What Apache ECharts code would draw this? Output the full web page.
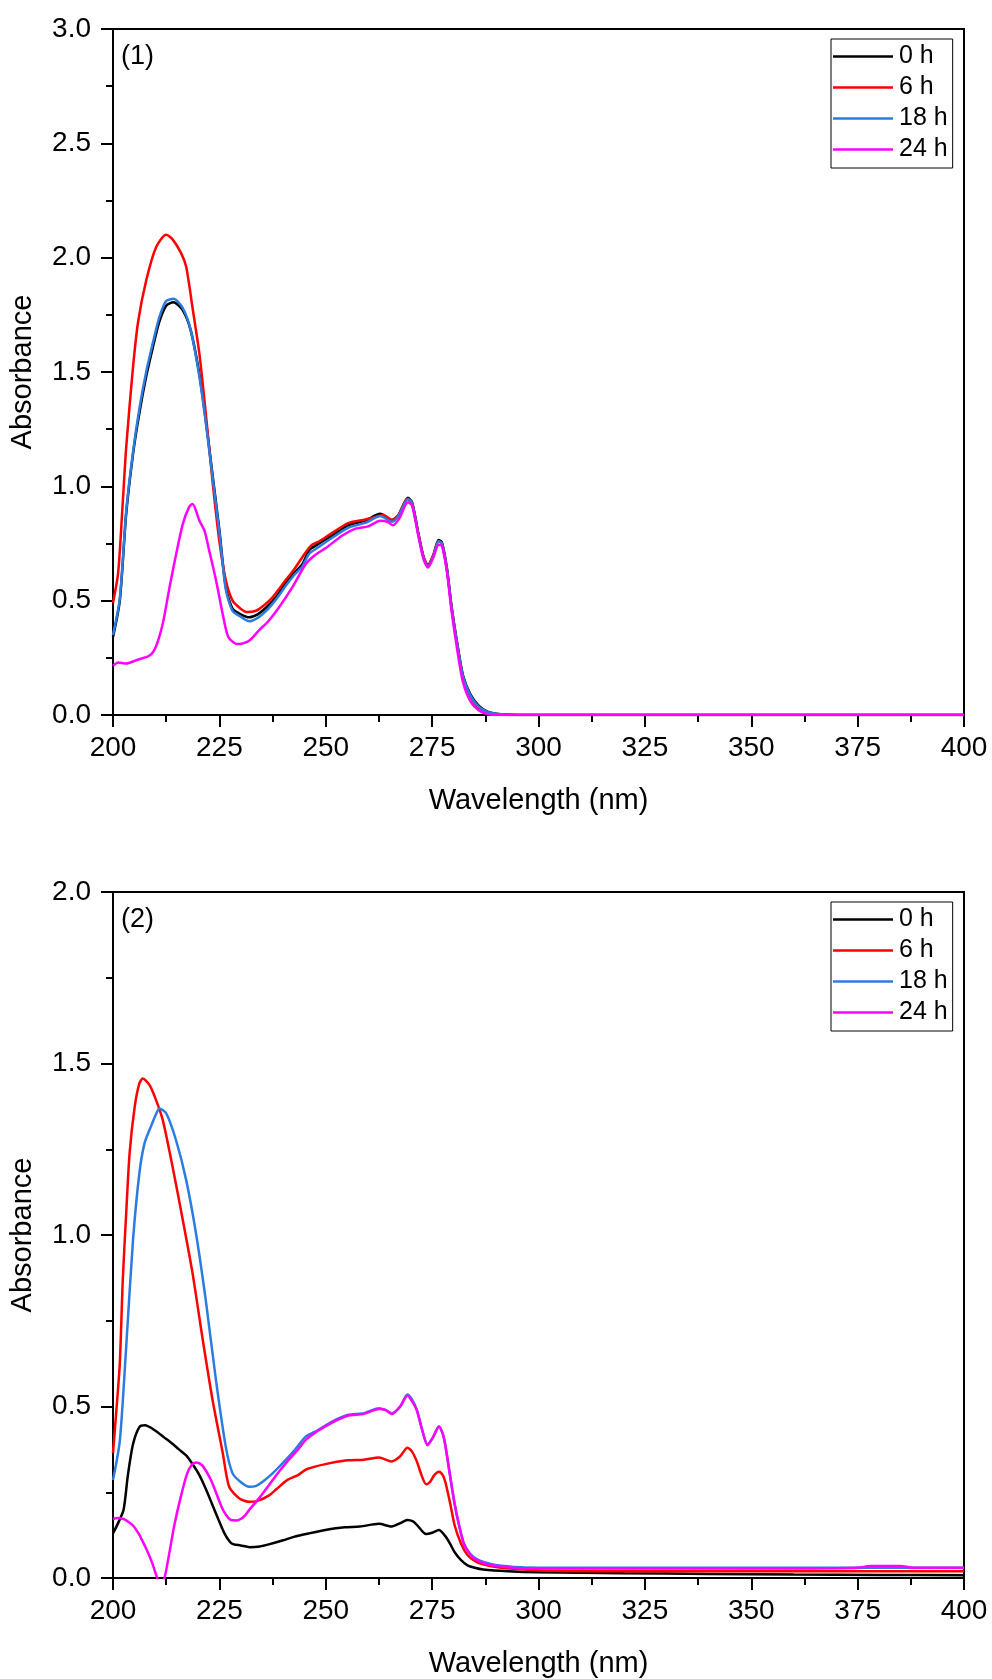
<!DOCTYPE html>
<html>
<head>
<meta charset="utf-8">
<script src="https://cdn.jsdelivr.net/npm/echarts@6/dist/echarts.min.js"></script>
<style>
html,body{margin:0;padding:0;background:#fff;}
#chart{width:992px;height:1679px;}
</style>
</head>
<body>
<div id="chart"></div>
<script>
// ---- Data ----
const seriesNames = ['0 h', '6 h', '18 h', '24 h'];
const xTicks = [200, 225, 250, 275, 300, 325, 350, 375, 400];
const panelLabels = ['(1)', '(2)'];

// Panel (1)
const p1_0h = [[200,0.34],[201.6,0.50],[203.1,0.88],[204.7,1.14],[206.2,1.32],[207.8,1.48],[209.4,1.61],[210.9,1.72],[212.5,1.79],[214.2,1.805],[216.4,1.77],[218.3,1.68],[220.3,1.49],[221.8,1.29],[223.4,1.05],[225,0.81],[226.5,0.56],[228.1,0.465],[230,0.44],[232,0.427],[234,0.44],[236,0.47],[238.5,0.52],[240.6,0.58],[242.5,0.62],[244.5,0.66],[246.1,0.72],[248,0.745],[251.5,0.785],[255.4,0.83],[259.3,0.85],[262.8,0.88],[265.6,0.853],[267.1,0.875],[269.3,0.95],[270.3,0.93],[271.8,0.79],[273,0.69],[274,0.655],[275.3,0.70],[276.5,0.765],[277.3,0.755],[278.5,0.64],[279.6,0.47],[281.2,0.28],[282.3,0.17],[284,0.09],[286,0.04],[288,0.015],[290,0.006],[293,0.001],[300,0],[400,0]];
const p1_6h = [[200,0.49],[201.2,0.62],[202.2,0.90],[203.1,1.17],[204.7,1.52],[205.9,1.72],[207.8,1.90],[210.1,2.045],[212.5,2.10],[214,2.08],[216,2.02],[217.2,1.96],[218.7,1.78],[220.3,1.58],[221.8,1.32],[223.4,1.02],[225,0.76],[226.5,0.59],[228.1,0.50],[230,0.465],[231.5,0.45],[233.6,0.456],[235.5,0.48],[237.5,0.515],[240.6,0.59],[242.5,0.635],[244.5,0.69],[246.5,0.74],[248.5,0.76],[251,0.79],[255.4,0.84],[259.3,0.855],[262.5,0.87],[263.5,0.875],[265.6,0.853],[267.1,0.875],[269.2,0.945],[270.3,0.925],[271.8,0.79],[273,0.69],[274,0.655],[275.3,0.70],[276.5,0.76],[277.3,0.75],[278.5,0.63],[279.6,0.465],[281.2,0.27],[282.3,0.16],[284,0.08],[286,0.03],[288,0.01],[290,0.003],[293,0],[400,0]];
const p1_18h = [[200,0.35],[201.6,0.51],[203.1,0.89],[204.7,1.15],[206.2,1.34],[207.8,1.50],[209.4,1.63],[210.9,1.74],[212.5,1.81],[214.2,1.82],[216.4,1.78],[218.3,1.68],[220.3,1.48],[221.8,1.28],[223.4,1.04],[225,0.80],[226.5,0.55],[228.1,0.455],[230,0.43],[232,0.41],[234,0.425],[236,0.455],[238.5,0.51],[240.6,0.565],[242.5,0.61],[244.5,0.65],[246.1,0.705],[248,0.73],[251.5,0.775],[255.4,0.82],[259.3,0.84],[262.8,0.87],[265.6,0.845],[267.1,0.87],[269.3,0.945],[270.3,0.925],[271.8,0.785],[273,0.685],[274,0.65],[275.3,0.695],[276.5,0.76],[277.3,0.75],[278.5,0.635],[279.6,0.465],[281.2,0.275],[282.3,0.165],[284,0.085],[286,0.035],[288,0.013],[290,0.005],[293,0.001],[300,0],[400,0]];
const p1_24h = [[200,0.215],[201.2,0.23],[203.1,0.225],[205.5,0.24],[208.6,0.26],[210.1,0.30],[211.7,0.40],[213.3,0.56],[214.8,0.70],[216.4,0.835],[217.9,0.91],[218.7,0.923],[220.3,0.85],[221.5,0.806],[222.6,0.72],[224.2,0.59],[225.8,0.44],[227,0.345],[228.5,0.315],[229.7,0.31],[232,0.325],[234.3,0.37],[236.5,0.41],[239,0.47],[242.2,0.56],[245.3,0.66],[247.5,0.70],[250,0.73],[253.9,0.785],[257,0.815],[260,0.825],[262.8,0.85],[264.5,0.845],[265.8,0.83],[267.3,0.86],[269.3,0.93],[270.3,0.915],[271.8,0.78],[273,0.68],[274,0.645],[275.3,0.69],[276.5,0.745],[277.3,0.74],[278.5,0.625],[279.6,0.45],[281.2,0.25],[282.3,0.14],[284,0.06],[286,0.02],[288,0.004],[290,0],[400,0]];

// Panel (2)
const p2_0h = [[200,0.13],[201.2,0.16],[202.5,0.20],[203.5,0.30],[204.7,0.39],[206.2,0.44],[207.5,0.445],[209.9,0.43],[212,0.41],[213.6,0.395],[215.5,0.375],[217.3,0.356],[218.8,0.33],[220.3,0.30],[221.8,0.26],[223.3,0.215],[224.8,0.17],[226.2,0.13],[227.5,0.105],[228.4,0.098],[230,0.095],[232.1,0.09],[234.5,0.092],[236.6,0.098],[240,0.11],[242.5,0.12],[246,0.13],[249.9,0.14],[254.4,0.148],[258,0.15],[262.5,0.158],[265.5,0.15],[267.5,0.16],[269.2,0.169],[270.5,0.165],[271.4,0.155],[273.6,0.128],[275,0.132],[276.6,0.14],[278.1,0.122],[279.3,0.098],[280.3,0.075],[281.8,0.052],[283.3,0.037],[285,0.03],[287,0.025],[292.9,0.02],[300,0.017],[320,0.014],[340,0.012],[360,0.01],[380,0.009],[400,0.008]];
const p2_6h = [[200,0.364],[200.8,0.49],[201.6,0.626],[202.3,0.87],[203.1,1.063],[203.9,1.238],[205.1,1.374],[206.2,1.442],[207,1.456],[208.6,1.437],[210.1,1.394],[211.7,1.335],[214,1.199],[216.4,1.044],[218.7,0.888],[221.1,0.694],[223.4,0.519],[225.8,0.364],[227.3,0.266],[229.7,0.232],[232.1,0.222],[234,0.225],[236.6,0.24],[238.5,0.26],[241,0.286],[243.5,0.30],[245.5,0.317],[249.9,0.332],[255.1,0.343],[259,0.345],[262.5,0.351],[265.5,0.34],[267.5,0.355],[269.2,0.38],[270.2,0.37],[271.4,0.34],[272.5,0.30],[273.6,0.273],[274.5,0.28],[275.5,0.30],[276.6,0.31],[277.5,0.30],[278.1,0.28],[279.2,0.22],[280.3,0.153],[281.8,0.10],[283.3,0.067],[285,0.05],[287,0.04],[290,0.032],[292.9,0.028],[300,0.022],[320,0.02],[340,0.02],[360,0.02],[380,0.02],[400,0.02]];
const p2_18h = [[200,0.286],[201.6,0.40],[203.1,0.674],[204.7,0.985],[206.2,1.18],[207.4,1.267],[208.9,1.316],[210.2,1.355],[210.9,1.369],[212.5,1.355],[214.8,1.277],[217.2,1.16],[219.5,1.005],[221.8,0.81],[224.2,0.577],[226.5,0.383],[228.1,0.305],[230,0.28],[232,0.266],[233.5,0.268],[235.1,0.28],[237.5,0.305],[239.8,0.334],[242.5,0.37],[245.3,0.412],[248,0.43],[251.5,0.456],[255.1,0.475],[258.8,0.48],[262.5,0.495],[264,0.49],[265.5,0.48],[267.5,0.5],[269.2,0.535],[270.3,0.52],[271.4,0.49],[272.7,0.43],[273.9,0.39],[275.2,0.41],[276.6,0.442],[277.5,0.42],[278.1,0.387],[279.2,0.30],[280.3,0.215],[281.4,0.15],[282.5,0.10],[284,0.07],[285.5,0.055],[287.5,0.045],[289.9,0.038],[295.9,0.031],[300,0.03],[320,0.03],[340,0.03],[360,0.03],[380,0.03],[400,0.03]];
const p2_24h = [[200,0.172],[201,0.175],[202.5,0.172],[203.5,0.165],[204.7,0.153],[206,0.13],[207,0.106],[208,0.08],[209.2,0.044],[210.4,0.0],[211.2,-0.02],[212.1,0.0],[213.2,0.07],[214.4,0.153],[215.8,0.23],[217.3,0.30],[218.5,0.33],[219.6,0.337],[221,0.328],[222.2,0.305],[223.3,0.278],[224.5,0.24],[225.5,0.208],[226.5,0.185],[227.7,0.169],[229,0.168],[230,0.172],[231,0.182],[232.1,0.20],[234.5,0.235],[236.6,0.27],[239,0.31],[241,0.34],[243.5,0.375],[245.5,0.405],[249.9,0.442],[255.1,0.473],[258.8,0.478],[262.5,0.493],[264,0.49],[265.5,0.478],[267.5,0.5],[269.2,0.532],[270.3,0.515],[271.4,0.489],[272.7,0.43],[273.9,0.387],[275.2,0.41],[276.6,0.442],[277.5,0.42],[278.1,0.387],[279.2,0.30],[280.3,0.215],[281.4,0.15],[282.5,0.098],[284,0.068],[285.5,0.052],[287.5,0.042],[289.9,0.036],[295.9,0.028],[300,0.028],[320,0.028],[340,0.028],[360,0.028],[375,0.03],[378,0.035],[385,0.035],[388,0.03],[400,0.03]];

const yMax = [3.0, 2.0];
const colors = ['#000000', '#ff0000', '#2b7be0', '#ff00ff'];

// ---- Chart ----
const FONT = '"Liberation Sans", Arial, sans-serif';
const chart = echarts.init(document.getElementById('chart'), null, {renderer: 'canvas'});

const grids = [
  {left: 110, top: 29, width: 854, height: 686},
  {left: 110, top: 892, width: 854, height: 686}
];

function xAxisFor(i) {
  return {
    type: 'value', gridIndex: i, min: xTicks[0], max: xTicks[xTicks.length - 1], interval: 25,
    name: 'Wavelength (nm)', nameLocation: 'middle', nameGap: 71,
    nameTextStyle: {fontFamily: FONT, fontSize: 29, color: '#000'},
    axisLine: {show: true, onZero: false, lineStyle: {color: '#000', width: 2}},
    axisTick: {show: true, inside: false, length: 12, lineStyle: {color: '#000', width: 2}},
    minorTick: {show: true, splitNumber: 2, length: 7, lineStyle: {color: '#000', width: 2}},
    axisLabel: {fontFamily: FONT, fontSize: 28, color: '#000', margin: 19},
    splitLine: {show: false}
  };
}
function yAxisFor(i) {
  return {
    type: 'value', gridIndex: i, min: 0, max: yMax[i], interval: 0.5,
    name: 'Absorbance', nameLocation: 'middle', nameGap: 76, nameRotate: 90,
    nameTextStyle: {fontFamily: FONT, fontSize: 29, color: '#000'},
    axisLine: {show: true, onZero: false, lineStyle: {color: '#000', width: 2}},
    axisTick: {show: true, inside: false, length: 12, lineStyle: {color: '#000', width: 2}},
    minorTick: {show: true, splitNumber: 2, length: 7, lineStyle: {color: '#000', width: 2}},
    axisLabel: {fontFamily: FONT, fontSize: 28, color: '#000', margin: 22,
      formatter: v => v.toFixed(1)},
    splitLine: {show: false}
  };
}

const panelData = [
  [p1_0h, p1_6h, p1_18h, p1_24h],
  [p2_0h, p2_6h, p2_18h, p2_24h]
];

const series = [];
panelData.forEach((arr, gi) => {
  arr.forEach((d, si) => {
    series.push({
      name: seriesNames[si], type: 'line', xAxisIndex: gi, yAxisIndex: gi,
      data: d, symbol: 'none', smooth: 0.25, clip: true,
      lineStyle: {color: colors[si], width: 2.5},
      itemStyle: {color: colors[si]},
      z: 2 + si
    });
  });
});

function legendFor(i) {
  return {
    data: seriesNames.map((n, k) => ({name: n, icon: 'rect', itemStyle: {color: colors[k]}})),
    orient: 'vertical',
    left: 831, top: grids[i].top + 10,
    padding: [2, 5, 3, 2], itemGap: 0, itemWidth: 60, itemHeight: 2.5,
    borderColor: '#000', borderWidth: 1, backgroundColor: '#fff',
    textStyle: {fontFamily: FONT, fontSize: 25, color: '#000', lineHeight: 31, padding: [0, 0, 0, 1]},
    selectedMode: false
  };
}

const option = {
  animation: false,
  backgroundColor: '#fff',
  grid: grids.map(g => Object.assign({show: true, borderColor: '#000', borderWidth: 2, backgroundColor: 'transparent', containLabel: false}, g)),
  xAxis: [xAxisFor(0), xAxisFor(1)],
  yAxis: [yAxisFor(0), yAxisFor(1)],
  legend: [legendFor(0), legendFor(1)],
  graphic: panelLabels.map((t, i) => ({
    type: 'text', left: 121, top: grids[i].top + 14,
    style: {text: t, fontFamily: FONT, fontSize: 27, fill: '#000'}
  })),
  series: series
};
chart.setOption(option);
</script>
</body>
</html>
